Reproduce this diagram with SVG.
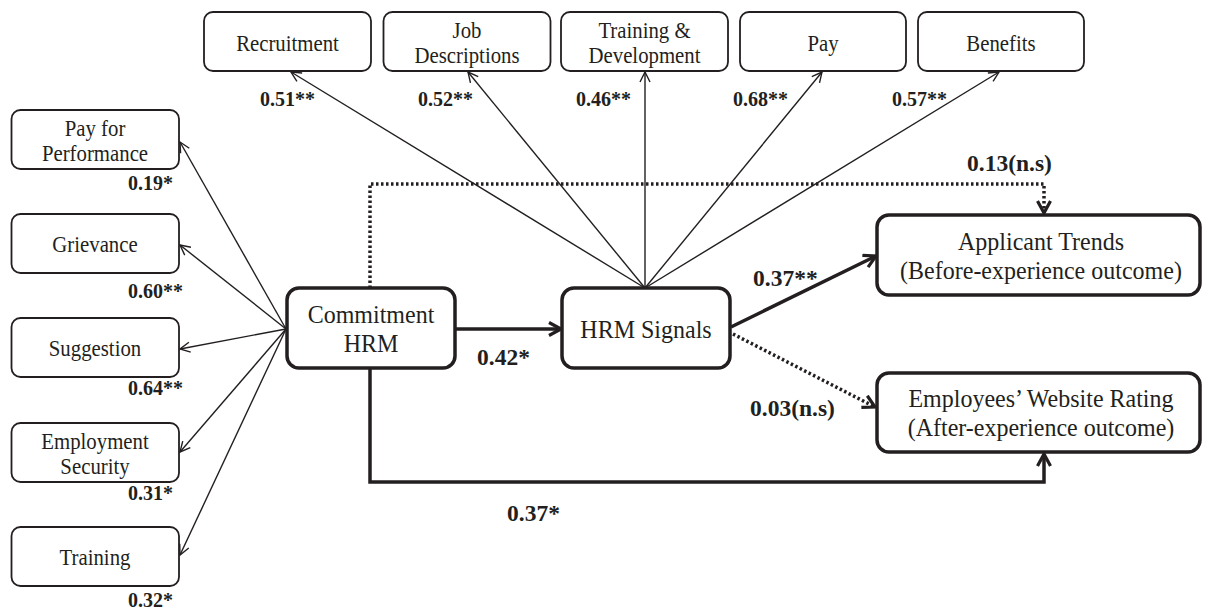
<svg xmlns="http://www.w3.org/2000/svg" width="1208" height="611" viewBox="0 0 1208 611">
<defs>
<style>
text{font-family:'Liberation Serif',Tinos,'Times New Roman','DejaVu Serif',serif;fill:#231f20}
.sb{fill:#fff;stroke:#231f20;stroke-width:1.8}
.mb{fill:#fff;stroke:#231f20;stroke-width:3.5}
.t{font-size:22.5px;text-anchor:middle}
.tm{font-size:25px;text-anchor:middle}
.lb{font-size:20px;font-weight:bold}
.lm{font-size:23.5px;font-weight:bold}
.thin{fill:none;stroke:#231f20;stroke-width:1.4;marker-end:url(#ah)}
.thick{fill:none;stroke:#231f20;stroke-width:3.5;marker-end:url(#ahb)}
.dot{fill:none;stroke:#231f20;stroke-width:3.5;stroke-dasharray:2.5 2.5;marker-end:url(#ahb)}
</style>
<marker id="ah" viewBox="0 0 12 12" refX="11" refY="6" markerWidth="12" markerHeight="12" markerUnits="userSpaceOnUse" orient="auto">
<path d="M1,1 L11,6 L1,11" fill="none" stroke="#231f20" stroke-width="1.4"/>
</marker>
<marker id="ahb" viewBox="0 0 16 16" refX="14" refY="8" markerWidth="16" markerHeight="16" markerUnits="userSpaceOnUse" orient="auto">
<path d="M2,1.5 L14,8 L2,14.5" fill="none" stroke="#231f20" stroke-width="3.2"/>
</marker>
</defs>
<rect width="1208" height="611" fill="#fff"/>

<g id="connectors">
<path class="thin" d="M645,288 L291,72"/>
<path class="thin" d="M645,288 L468,72"/>
<path class="thin" d="M645,288 L645,72"/>
<path class="thin" d="M645,288 L822,72"/>
<path class="thin" d="M645,288 L999,72"/>
<path class="thin" d="M286,329 L180,142"/>
<path class="thin" d="M286,329 L180,245"/>
<path class="thin" d="M286,329 L180,349"/>
<path class="thin" d="M286,329 L180,452"/>
<path class="thin" d="M286,329 L180,555"/>
<path class="thick" d="M455,329 L561,329"/>
<path class="thick" d="M731,327 L876,256"/>
<path class="dot" d="M733,334 L875,407"/>
<path class="dot" d="M370,288 L370,184 L1044,184 L1044,213"/>
<path class="thick" d="M370,368 L370,482 L1044,482 L1044,454"/>
</g>

<g id="recruitment"><rect class="sb" x="204" y="12" width="167" height="59" rx="9"/><text class="t" transform="translate(287.5,51) scale(0.924,1)">Recruitment</text></g>
<g id="job-descriptions"><rect class="sb" x="383.5" y="12" width="167" height="59" rx="9"/><text class="t" transform="translate(467,38) scale(0.924,1)">Job</text><text class="t" transform="translate(467,63) scale(0.924,1)">Descriptions</text></g>
<g id="training-development"><rect class="sb" x="561" y="12" width="167" height="59" rx="9"/><text class="t" transform="translate(644.5,38) scale(0.924,1)">Training &amp;</text><text class="t" transform="translate(644.5,63) scale(0.924,1)">Development</text></g>
<g id="pay"><rect class="sb" x="740" y="12" width="166" height="59" rx="9"/><text class="t" transform="translate(823,51) scale(0.924,1)">Pay</text></g>
<g id="benefits"><rect class="sb" x="918" y="12" width="166" height="59" rx="9"/><text class="t" transform="translate(1001,51) scale(0.924,1)">Benefits</text></g>

<g id="pay-for-performance"><rect class="sb" x="11.5" y="110" width="167.5" height="59" rx="9"/><text class="t" transform="translate(95,136) scale(0.924,1)">Pay for</text><text class="t" transform="translate(95,161) scale(0.924,1)">Performance</text></g>
<g id="grievance"><rect class="sb" x="11.5" y="214" width="167.5" height="59" rx="9"/><text class="t" transform="translate(95,252) scale(0.924,1)">Grievance</text></g>
<g id="suggestion"><rect class="sb" x="11.5" y="318" width="167.5" height="59" rx="9"/><text class="t" transform="translate(95,356) scale(0.924,1)">Suggestion</text></g>
<g id="employment-security"><rect class="sb" x="11.5" y="423" width="167.5" height="59" rx="9"/><text class="t" transform="translate(95,449) scale(0.924,1)">Employment</text><text class="t" transform="translate(95,474) scale(0.924,1)">Security</text></g>
<g id="training"><rect class="sb" x="11.5" y="527" width="167.5" height="59" rx="9"/><text class="t" transform="translate(95,565) scale(0.924,1)">Training</text></g>

<g id="commitment-hrm"><rect class="mb" x="287" y="288" width="168" height="80" rx="12"/><text class="tm" transform="translate(371,323) scale(0.96,1)">Commitment</text><text class="tm" transform="translate(371,352) scale(0.96,1)">HRM</text></g>
<g id="hrm-signals"><rect class="mb" x="562" y="288" width="168" height="80" rx="12"/><text class="tm" transform="translate(646,338) scale(0.96,1)">HRM Signals</text></g>
<g id="applicant-trends"><rect class="mb" x="877" y="215" width="323" height="80" rx="12"/><text class="tm" transform="translate(1041,250) scale(0.96,1)">Applicant Trends</text><text class="tm" transform="translate(1041,279) scale(0.96,1)">(Before-experience outcome)</text></g>
<g id="employees-rating"><rect class="mb" x="877" y="373" width="323" height="79" rx="12"/><text class="tm" transform="translate(1041,407) scale(0.96,1)">Employees’ Website Rating</text><text class="tm" transform="translate(1041,436) scale(0.96,1)">(After-experience outcome)</text></g>

<g id="labels">
<text class="lb" x="260" y="106">0.51**</text>
<text class="lb" x="418" y="106">0.52**</text>
<text class="lb" x="576" y="106">0.46**</text>
<text class="lb" x="733" y="106">0.68**</text>
<text class="lb" x="892" y="106">0.57**</text>
<text class="lb" x="128" y="190">0.19*</text>
<text class="lb" x="128" y="298">0.60**</text>
<text class="lb" x="128" y="395">0.64**</text>
<text class="lb" x="128" y="500">0.31*</text>
<text class="lb" x="128" y="607">0.32*</text>
<text class="lm" x="967" y="171">0.13(n.s)</text>
<text class="lm" x="753" y="286">0.37**</text>
<text class="lm" x="477" y="365">0.42*</text>
<text class="lm" x="750" y="416">0.03(n.s)</text>
<text class="lm" x="507" y="521">0.37*</text>
</g>
</svg>
